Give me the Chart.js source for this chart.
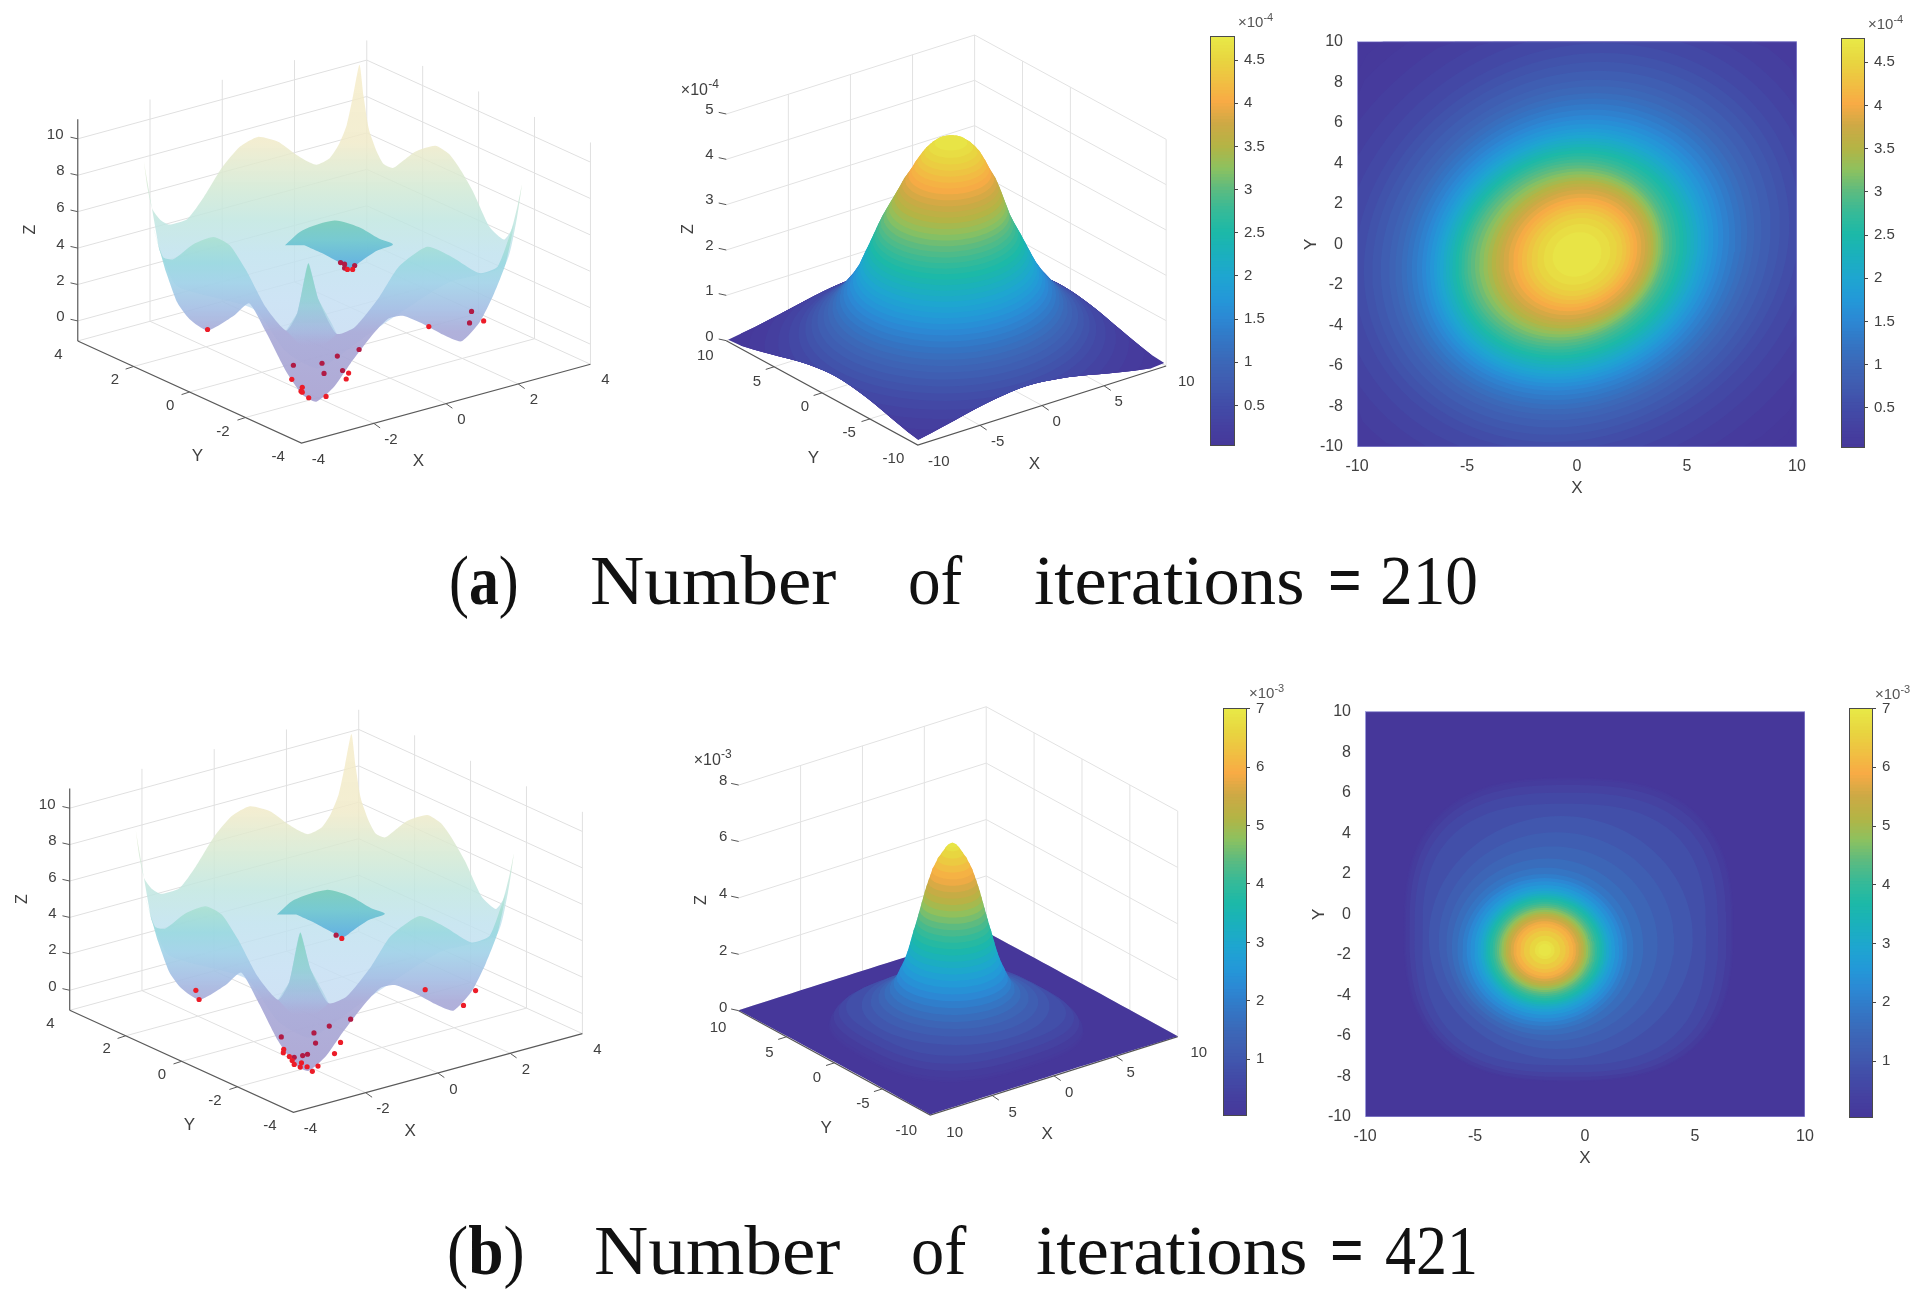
<!DOCTYPE html>
<html>
<head>
<meta charset="utf-8">
<script src="https://cdn.jsdelivr.net/npm/chart.js@4"></script>
<style>
  html, body { margin: 0; background: #fff; overflow: hidden; }
  canvas { position: absolute; filter: blur(0.4px); }
  .cap { position: absolute; font: 70px "Liberation Serif", serif; color: #111; white-space: pre; transform-origin: 0 0; line-height: normal; }
</style>
</head>
<body>
<script>
// row (a): height of each contour level (x 1e-4) and its radius around the peak
const rowALevels = [4.8,4.7,4.6,4.5,4.4,4.3,4.2,4.1,4.0,3.9,3.8,3.7,3.6,3.5,3.4,3.3,3.2,3.1,3.0,2.9,2.8,2.7,2.6,2.5,2.4,2.3,2.2,2.1,2.0,1.9,1.8,1.7,1.6,1.5,1.4,1.3,1.2,1.1,1.0,0.9,0.8,0.7,0.6,0.5,0.4,0.3,0.2,0.1,0.05,0.02];
const rowARadius = [0,1.1,1.5,1.8,2.05,2.25,2.45,2.62,2.8,3.0,3.2,3.35,3.5,3.65,3.8,3.95,4.1,4.25,4.4,4.55,4.7,4.85,5.0,5.15,5.3,5.45,5.6,5.75,5.9,6.05,6.2,6.4,6.6,6.8,7.05,7.3,7.55,7.8,8.1,8.4,8.8,9.2,9.6,10.05,10.7,11.4,12.3,13.4,14.2,20];
const rowACenterX = [0,0,0,0,0,-.02,-.04,-.06,-.08,-.1,-.12,-.14,-.16,-.2,-.24,-.28,-.32,-.36,-.4,-.4,-.4,-.38,-.36,-.34,-.34,-.32,-.32,-.3,-.3,-.28,-.26,-.24,-.22,-.2,-.18,-.16,-.14,-.12,-.1,-.08,-.06,-.04,-.02,0,0,0,0,0,0,0];
const rowACenterY = [-.5,-.5,-.5,-.5,-.5,-.5,-.5,-.5,-.5,-.5,-.5,-.5,-.5,-.5,-.5,-.5,-.5,-.5,-.5,-.5,-.5,-.5,-.5,-.5,-.5,-.5,-.5,-.5,-.5,-.5,-.48,-.46,-.44,-.42,-.4,-.38,-.36,-.34,-.3,-.28,-.24,-.2,-.16,-.12,-.1,-.08,-.06,-.04,0,0];

// row (b): same thing (x 1e-3), last level is the flat floor
const rowBLevels = [7,6.9,6.8,6.6,6.4,6.2,6,5.8,5.6,5.4,5.2,5,4.8,4.6,4.4,4.2,4,3.8,3.6,3.4,3.2,3,2.8,2.6,2.4,2.2,2,1.8,1.6,1.4,1.2,1,.8,.6,.4,.2,.1,.05,0];
const rowBRadius = [0,.3,.45,.7,.95,1.12,1.3,1.42,1.55,1.67,1.78,1.88,1.98,2.08,2.18,2.28,2.38,2.5,2.6,2.7,2.8,2.92,3.05,3.2,3.38,3.55,3.75,4,4.35,4.8,5.35,6,6.45,6.9,7.2,7.4,7.45,7.5,20];
const rowBCenterX = [-1.83,-1.83,-1.83,-1.83,-1.83,-1.83,-1.83,-1.83,-1.83,-1.83,-1.83,-1.83,-1.83,-1.83,-1.83,-1.83,-1.83,-1.83,-1.83,-1.83,-1.83,-1.83,-1.83,-1.83,-1.83,-1.83,-1.83,-1.8,-1.7,-1.5,-1.3,-1.1,-.95,-.85,-.78,-.75,-.75,-.75,0];
const rowBCenterY = [-1.76,-1.76,-1.76,-1.76,-1.76,-1.76,-1.76,-1.76,-1.76,-1.76,-1.76,-1.76,-1.76,-1.76,-1.76,-1.76,-1.76,-1.76,-1.76,-1.76,-1.76,-1.76,-1.76,-1.76,-1.76,-1.76,-1.76,-1.7,-1.6,-1.45,-1.3,-1.15,-1,-.9,-.82,-.78,-.75,-.75,0];

// colorbar ticks
const rowATicks = [0.5,1,1.5,2,2.5,3,3.5,4,4.5];
const rowBTicks = [1,2,3,4,5,6,7];

// parula-like colors sampled from the colorbar
const colorStops = [[0,'#46379a'],[.05,'#4540a0'],[.105,'#424da8'],[.157,'#405bb0'],[.21,'#3c68b8'],[.26,'#3476c4'],[.314,'#2c88d4'],[.366,'#2399d8'],[.418,'#1ea6d0'],[.47,'#1bb0bd'],[.523,'#1cb9a8'],[.575,'#36ba98'],[.628,'#5dbb80'],[.68,'#8ec15e'],[.732,'#b4b445'],[.785,'#cda945'],[.84,'#f8ab45'],[.94,'#e8d540'],[1,'#e8ea48']];

// test function surface outlines, in plot units of the left panels
const surfaceBack = [[347,480],[356,560],[368,625],[388,658],[410,672],[455,655],[495,590],[540,500],[585,435],[630,405],[680,420],[720,455],[750,478],[775,490],[808,470],[830,430],[850,370],[866,280],[882,185],[892,280],[905,380],[925,450],[942,488],[965,500],[990,478],[1020,450],[1070,432],[1105,458],[1135,510],[1165,575],[1205,680],[1240,718],[1258,690],[1275,610],[1285,550],[1270,670],[1240,800],[1100,850],[900,1010],[780,1110],[700,1060],[620,930],[430,860],[385,750]];
const surfaceFront = [[370,680],[395,772],[420,778],[470,732],[520,710],[560,735],[600,810],[650,925],[700,995],[728,940],[755,790],[780,900],[825,1005],[870,985],[930,895],[980,800],[1050,740],[1110,770],[1180,820],[1225,800],[1265,670],[1245,790],[1215,885],[1180,970],[1135,1028],[1090,1008],[1040,975],[990,950],[955,958],[920,1000],[860,1095],[820,1165],[775,1212],[740,1190],[700,1120],[650,1000],[608,912],[570,950],[505,995],[460,960],[430,910],[400,810]];
const surfaceSpike = [[700,995],[728,940],[755,790],[780,900],[825,1005],[790,1040],[735,1040]];
const surfaceDip = [[697,735],[740,690],[820,660],[880,680],[930,715],[965,733],[925,752],[890,780],[860,805],[835,790],[790,760],[745,735]];

// population points (red dots)
const dotsABright = [[505,992],[756,1200],[799,1196],[737,1180],[740,1183],[740,1168],[849,1143],[855,1125],[714,1144],[1054,983],[1190,966],[852,809],[865,809]];
const dotsADim = [[835,788],[845,793],[870,797],[845,805],[1160,937],[1155,972],[881,1053],[827,1073],[718,1101],[789,1095],[794,1126],[840,1117]];
const dotsBBright = [[476,964],[484,992],[838,806],[1045,962],[1170,965],[1140,1010],[835,1123],[820,1157],[694,1144],[693,1154],[708,1166],[715,1178],[720,1190],[738,1185],[735,1198],[752,1197],[779,1195],[765,1211]];
const dotsBDim = [[824,796],[860,1052],[807,1073],[688,1106],[769,1094],[773,1125],[720,1168],[741,1163],[753,1159]];

Chart.defaults.font.family = '"Liberation Sans", Arial, sans-serif';
Chart.defaults.color = '#404040';
Chart.defaults.animation = false;

const TICK_COLOR = '#404040';

function hex(c) { return [1, 3, 5].map(i => parseInt(c.substr(i, 2), 16)); }

function parula(t) {
  t = Math.min(1, Math.max(0, t));
  for (let i = 1; i < colorStops.length; i++) {
    if (t <= colorStops[i][0]) {
      const a = colorStops[i - 1], b = colorStops[i];
      const f = (t - a[0]) / (b[0] - a[0]);
      const ca = hex(a[1]), cb = hex(b[1]);
      return 'rgb(' + ca.map((v, k) => Math.round(v + (cb[k] - v) * f)).join(',') + ')';
    }
  }
  return colorStops[colorStops.length - 1][1];
}

const tableA = { levels: rowALevels, radius: rowARadius, cx: rowACenterX, cy: rowACenterY, top: 4.78, shear: 0.12, squareBelow: 0, squareness: 2 };
const tableB = { levels: rowBLevels, radius: rowBRadius, cx: rowBCenterX, cy: rowBCenterY, top: 7.01, shear: 0, squareBelow: 0.9, squareness: 2.7 };

function ringExtent(t, i, px, py) {
  // how far out (1 = on the contour) a domain point lies for contour i
  const p = t.levels[i] < t.squareBelow ? t.squareness : 2;
  const dy = py - t.cy[i];
  const dx = px - t.cx[i] - t.shear * dy;
  return Math.pow(Math.pow(Math.abs(dx), p) + Math.pow(Math.abs(dy), p), 1 / p) / Math.max(t.radius[i], 1e-6);
}

function heightAt(t, px, py) {
  let prev = null;
  for (let i = 0; i < t.levels.length; i++) {
    const e = ringExtent(t, i, px, py);
    if (e <= 1) {
      if (prev === null) return t.levels[i];
      return t.levels[i] + (prev.z - t.levels[i]) * (1 - e) / (prev.e - e);
    }
    prev = { z: t.levels[i], e: e };
  }
  return 0;
}

// one contour as a closed polygon on the -10..10 square. Where it leaves the square the
// point sticks to the edge at the real surface height, which gives the lifted front edges.
function ringPoints(t, i) {
  const pts = [];
  const n = 96;
  const p = t.levels[i] < t.squareBelow ? t.squareness : 2;
  pts.clipped = false;
  for (let a = 0; a < n; a++) {
    const th = a / n * Math.PI * 2;
    const ux = Math.cos(th), uy = Math.sin(th);
    const rr = t.radius[i] / Math.pow(Math.pow(Math.abs(ux), p) + Math.pow(Math.abs(uy), p), 1 / p);
    const cx = t.cx[i], cy = t.cy[i];
    let x = cx + rr * ux + t.shear * rr * uy;
    let y = cy + rr * uy;
    let z = t.levels[i];
    if (Math.abs(x) > 10 || Math.abs(y) > 10) {
      const f = Math.min(Math.abs(x) > 10 ? (10 * Math.sign(x) - cx) / (x - cx) : 1, Math.abs(y) > 10 ? (10 * Math.sign(y) - cy) / (y - cy) : 1);
      x = cx + (x - cx) * f;
      y = cy + (y - cy) * f;
      z = heightAt(t, x, y);
      pts.clipped = true;
    }
    pts.push({ x: x, y: y, z: z });
  }
  return pts;
}

// outline around two neighbouring contours, so the mountain flank has no stair steps
function convexHull(points) {
  const s = points.slice().sort((a, b) => a.x - b.x || a.y - b.y);
  const cross = (o, a, b) => (a.x - o.x) * (b.y - o.y) - (a.y - o.y) * (b.x - o.x);
  const lower = [], upper = [];
  s.forEach(p => {
    while (lower.length > 1 && cross(lower[lower.length - 2], lower[lower.length - 1], p) <= 0) lower.pop();
    lower.push(p);
  });
  s.slice().reverse().forEach(p => {
    while (upper.length > 1 && cross(upper[upper.length - 2], upper[upper.length - 1], p) <= 0) upper.pop();
    upper.push(p);
  });
  return lower.slice(0, -1).concat(upper.slice(0, -1));
}

function projector(v) {
  const ex = [(v.right[0] - v.front[0]) / (2 * v.lim), (v.right[1] - v.front[1]) / (2 * v.lim)];
  const ey = [(v.left[0] - v.front[0]) / (2 * v.lim), (v.left[1] - v.front[1]) / (2 * v.lim)];
  return (x, y, z) => ({
    x: v.front[0] + (x + v.lim) * ex[0] + (y + v.lim) * ey[0],
    y: v.front[1] + (x + v.lim) * ex[1] + (y + v.lim) * ey[1] - (z - v.zMin) * v.zUnit
  });
}

function lineSet(points, color, width) {
  return { data: points, borderColor: color, borderWidth: width, pointRadius: 0, fill: false, tension: 0 };
}

function fillSet(points, color, tension) {
  return { data: points, backgroundColor: color, borderWidth: 0, pointRadius: 0, fill: 'shape', tension: tension || 0 };
}

function gradient(stops) {
  return function (ctx) {
    const chart = ctx.chart;
    if (!chart.chartArea) return 'transparent';
    const sy = chart.scales.y;
    const y0 = sy.getPixelForValue(stops[0][0]), y1 = sy.getPixelForValue(stops[stops.length - 1][0]);
    const g = chart.ctx.createLinearGradient(0, y0, 0, y1);
    stops.forEach(s => g.addColorStop((sy.getPixelForValue(s[0]) - y0) / (y1 - y0), s[1]));
    return g;
  };
}

// walls, floor and axes of a 3D panel through its projection
function boxSets(v) {
  const pr = projector(v);
  const L = v.lim, sets = [];
  const g = v.gridColor;
  v.zTicks.forEach(z => {
    sets.push(lineSet([pr(-L, L, z), pr(L, L, z), pr(L, -L, z)], g, 1));
  });
  v.wallX.forEach(x => sets.push(lineSet([pr(x, L, v.zMin), pr(x, L, v.zMax)], g, 1)));
  v.wallY.forEach(y => sets.push(lineSet([pr(L, y, v.zMin), pr(L, y, v.zMax)], g, 1)));
  sets.push(lineSet([pr(L, L, v.zMin), pr(L, L, v.zMax)], g, 1));
  sets.push(lineSet([pr(L, -L, v.zMin), pr(L, -L, v.zMax)], g, 1));
  v.floorTicks.forEach(t => {
    sets.push(lineSet([pr(t, -L, v.zMin), pr(t, L, v.zMin)], g, 1));
    sets.push(lineSet([pr(-L, t, v.zMin), pr(L, t, v.zMin)], g, 1));
  });
  sets.push(lineSet([pr(-L, L, v.zMin), pr(L, L, v.zMin), pr(L, -L, v.zMin)], g, 1));
  return sets;
}

function axisSets(v) {
  const pr = projector(v);
  const L = v.lim, sets = [];
  const a = v.axisColor;
  if (v.zAxis) sets.push(lineSet([pr(-L, L, v.zMin), pr(-L, L, v.zMax)], a, 1.2));
  sets.push(lineSet([pr(-L, L, v.zMin), pr(-L, -L, v.zMin), pr(L, -L, v.zMin)], a, 1.2));
  v.zTicks.forEach(z => {
    const s = pr(-L, L, z);
    sets.push(lineSet([{ x: s.x - 18, y: s.y - 5 }, s], a, 1));
  });
  v.floorTicks.forEach(t => {
    const s = pr(t, -L, v.zMin);
    sets.push(lineSet([s, { x: s.x + 16, y: s.y + 14 }], a, 1));
    const q = pr(-L, t, v.zMin);
    sets.push(lineSet([q, { x: q.x - 20, y: q.y + 8 }], a, 1));
  });
  return sets;
}

// draws the free text marks of a panel, in plot units
function textMarks(marks) {
  return {
    id: 'textMarks',
    afterDraw(chart) {
      const c = chart.ctx;
      marks.forEach(m => {
        const o = m[3] || {};
        c.save();
        c.translate(chart.scales.x.getPixelForValue(m[1]), chart.scales.y.getPixelForValue(m[2]));
        if (o.rot) c.rotate(o.rot);
        c.font = (o.size || 15) + 'px "Liberation Sans"';
        c.fillStyle = o.color || TICK_COLOR;
        c.textAlign = o.align || 'center';
        c.textBaseline = 'middle';
        c.fillText(m[0], 0, 0);
        c.restore();
      });
    }
  };
}

function addChart(left, top, width, height, config) {
  const cv = document.createElement('canvas');
  cv.width = width;
  cv.height = height;
  cv.style.left = left + 'px';
  cv.style.top = top + 'px';
  cv.style.width = width + 'px';
  cv.style.height = height + 'px';
  document.body.appendChild(cv);
  config.options = Object.assign({ responsive: false, animation: false, events: [] }, config.options);
  config.options.plugins = Object.assign({ legend: { display: false }, tooltip: { enabled: false } }, config.options.plugins);
  return new Chart(cv, config);
}

function inOrder(sets) {
  // Chart.js paints high order first, keep the painter order of the list
  sets.forEach((s, i) => { s.order = sets.length - i; });
  return sets;
}

function panelChart(left, top, width, height, win, sets, marks) {
  addChart(left, top, width, height, {
    type: 'line',
    data: { datasets: inOrder(sets) },
    options: {
      layout: { padding: 0 },
      scales: {
        x: { type: 'linear', display: false, min: win.x0, max: win.x1 },
        y: { type: 'linear', display: false, min: win.y0, max: win.y1, reverse: true }
      }
    },
    plugins: [textMarks(marks)]
  });
}

const toPoints = arr => arr.map(p => ({ x: p[0], y: p[1] }));
const shifted = (arr, w) => arr.map(p => ({ x: p[0] + w.x0, y: p[1] + w.y0 }));

function dotSet(points, color) {
  return { data: points, showLine: false, pointRadius: 2.6, pointBackgroundColor: color, pointBorderWidth: 0 };
}

// left panels: the multimodal test surface with the population on it
const viewSurface = {
  lim: 4, front: [738, 1338], right: [1455, 1098], left: [183, 1027], zUnit: 55.5, zMin: -1.1, zMax: 11.08,
  zTicks: [0, 2, 4, 6, 8, 10], wallX: [-2, 0, 2], wallY: [2, 0, -2], floorTicks: [-2, 0, 2],
  gridColor: '#e0e0e0', axisColor: '#5a5a5a', zAxis: true
};
const textSurface = [
  ['10', 127, 400], ['8', 140, 510], ['6', 140, 622], ['4', 140, 733], ['2', 140, 844], ['0', 140, 955],
  ['4', 135, 1068], ['2', 275, 1145], ['0', 412, 1225], ['-2', 543, 1303], ['-4', 680, 1380],
  ['-4', 780, 1388], ['-2', 960, 1328], ['0', 1135, 1268], ['2', 1315, 1207], ['4', 1492, 1147],
  ['Z', 65, 688, { rot: -Math.PI / 2, size: 16 }], ['Y', 480, 1378, { size: 17 }], ['X', 1028, 1395, { size: 17 }]
];

function surfaceSets(win, bright, dim) {
  const sets = boxSets(viewSurface);
  sets.push(fillSet(toPoints(surfaceBack), gradient([[180, '#f6ecc8d0'], [420, '#f0eac8d4'], [560, '#d2e9d4d8'], [660, '#c0e6e0d8'], [760, '#c0e2eed8'], [900, '#c5dff3d8'], [1110, '#c8daf2d8']]), 0.2));
  sets.push(fillSet(toPoints(surfaceDip), gradient([[660, '#7ccdbcf2'], [720, '#73c8d0f2'], [805, '#5eaee2f2']]), 0.25));
  sets.push(fillSet(toPoints(surfaceFront), gradient([[670, '#c0e8e0e8'], [720, '#a8dfd2e8'], [790, '#9ad8e0e8'], [850, '#a2d2e8e8'], [930, '#a5bee4e8'], [1000, '#aaabd8ed'], [1212, '#a9a3d2ed']]), 0.2));
  sets.push(fillSet(toPoints(surfaceSpike), gradient([[790, '#84d2b8b8'], [900, '#8fd6d0a8'], [1000, '#a3c6e670'], [1040, '#a3bce400']]), 0.1));
  axisSets(viewSurface).forEach(s => sets.push(s));
  sets.push(dotSet(shifted(dim, win), '#b01b45'));
  sets.push(dotSet(shifted(bright, win), '#ec1c28'));
  return sets;
}

// middle panels: the density surface, stacked contours with the colorbar colors
function densitySets(view, t) {
  const pr = projector(view);
  const sets = boxSets(view);
  axisSets(view).forEach(s => sets.push(s));
  for (let i = t.levels.length - 1; i >= 0; i--) {
    const ring = ringPoints(t, i);
    let pts = ring.map(q => pr(q.x, q.y, q.z));
    if (!ring.clipped && i > 0) {
      pts = convexHull(pts.concat(ringPoints(t, i - 1).map(q => pr(q.x, q.y, q.z))));
    }
    sets.push(fillSet(pts, parula(t.levels[i] / t.top)));
  }
  return sets;
}

const viewDensityA = {
  lim: 10, front: [660, 1335], right: [1250, 1098], left: [205, 1022], zUnit: 136, zMin: 0, zMax: 5,
  zTicks: [0, 1, 2, 3, 4, 5], wallX: [-5, 0, 5], wallY: [5, 0], floorTicks: [-5, 0, 5],
  gridColor: '#e2e2e2', axisColor: '#555', zAxis: false
};
const textDensityA = [
  ['5', 165, 330], ['4', 165, 465], ['3', 165, 600], ['2', 165, 737], ['1', 165, 872], ['0', 165, 1010],
  ['10', 155, 1068], ['5', 278, 1147], ['0', 392, 1222], ['-5', 497, 1300], ['-10', 602, 1378],
  ['-10', 710, 1385], ['-5', 850, 1325], ['0', 990, 1265], ['5', 1137, 1207], ['10', 1298, 1147],
  ['Z', 115, 687, { rot: -Math.PI / 2, size: 16 }], ['Y', 412, 1375, { size: 17 }], ['X', 937, 1392, { size: 17 }],
  ['\u00d710', 97, 272, { align: 'left', size: 16 }], ['-4', 162, 253, { align: 'left', size: 12 }]
];

const viewDensityB = {
  lim: 10, front: [642, 1335], right: [1230, 1100], left: [187, 1022], zUnit: 84.6, zMin: 0, zMax: 8,
  zTicks: [0, 2, 4, 6, 8], wallX: [-5, 0, 5], wallY: [5, 0, -5], floorTicks: [-5, 0, 5],
  gridColor: '#e2e2e2', axisColor: '#555', zAxis: false
};
const textDensityB = [
  ['8', 150, 333], ['6', 150, 502], ['4', 150, 673], ['2', 150, 843], ['0', 150, 1013],
  ['10', 138, 1073], ['5', 260, 1150], ['0', 373, 1225], ['-5', 482, 1303], ['-10', 585, 1382],
  ['10', 700, 1388], ['5', 838, 1328], ['0', 972, 1268], ['5', 1118, 1208], ['10', 1280, 1150],
  ['Z', 98, 690, { rot: -Math.PI / 2, size: 16 }], ['Y', 395, 1375, { size: 17 }], ['X', 920, 1393, { size: 17 }],
  ['\u00d710', 80, 272, { align: 'left', size: 16 }], ['-3', 145, 255, { align: 'left', size: 12 }]
];

// right panels: filled contour map on real X/Y axes
function heatChart(left, top, t) {
  const W = 440, H = 409, yw = 60, xh = 60, padT = 12, padR = 24;
  const frame = [{ x: -10, y: -10 }, { x: 10, y: -10 }, { x: 10, y: 10 }, { x: -10, y: 10 }, { x: -10, y: -10 }];
  const sets = [fillSet(frame, parula(t.levels[t.levels.length - 1] / t.top))];
  for (let i = t.levels.length - 1; i >= 0; i--) {
    sets.push(fillSet(ringPoints(t, i).map(q => ({ x: q.x, y: q.y })), parula(t.levels[i] / t.top)));
  }
  sets.push(lineSet(frame, '#a8a8e4', 1));
  addChart(left - yw, top - padT, yw + W + padR, padT + H + xh, {
    type: 'line',
    data: { datasets: inOrder(sets) },
    options: {
      layout: { autoPadding: false, padding: { top: padT - 2.5, right: padR } },
      scales: {
        x: {
          type: 'linear', min: -10, max: 10,
          grid: { display: false }, border: { display: false },
          ticks: { stepSize: 5, maxRotation: 0, padding: 2, color: TICK_COLOR, font: { size: 16 } },
          title: { display: true, text: 'X', color: TICK_COLOR, font: { size: 17 }, padding: { top: 0, bottom: 8 } },
          afterFit: s => { s.height = xh; }
        },
        y: {
          type: 'linear', min: -10, max: 10,
          grid: { display: false }, border: { display: false },
          ticks: { stepSize: 2, padding: 6, color: TICK_COLOR, font: { size: 16 } },
          title: { display: true, text: 'Y', color: TICK_COLOR, font: { size: 17 }, padding: { top: 4, bottom: 0 } },
          afterFit: s => { s.width = yw; }
        }
      }
    }
  });
}

// colorbars: a stack of thin bars on a real value axis
function colorbar(left, top, w, h, min, max, ticks, exp, expX, expY) {
  const cells = 128, step = max / cells, padT = 30, padB = 10, axisW = 56, spare = 6;
  const sets = [];
  for (let k = 0; k < cells; k++) {
    sets.push({ data: [step], backgroundColor: parula((k + 0.5) / cells), barPercentage: 1, categoryPercentage: 1, inflateAmount: 0.6 });
  }
  addChart(left, top - padT, w + axisW, h + padT + padB + spare, {
    type: 'bar',
    data: { labels: [''], datasets: sets },
    options: {
      layout: { autoPadding: false, padding: { top: padT, bottom: padB } },
      scales: {
        x: { stacked: true, display: false },
        y: {
          stacked: true, position: 'right', min: min, max: max,
          grid: { drawOnChartArea: false, tickLength: 3, tickColor: '#444' }, border: { display: false },
          ticks: { padding: 6, color: TICK_COLOR, font: { size: 15 }, callback: v => String(v) },
          afterBuildTicks: s => { s.ticks = ticks.map(v => ({ value: v })); },
          afterFit: s => { s.width = axisW; }
        }
      }
    },
    plugins: [{
      id: 'barFrame',
      afterDraw(chart) {
        const a = chart.chartArea, c = chart.ctx;
        c.save();
        c.strokeStyle = '#4a4a4a';
        c.strokeRect(a.left + 0.5, a.top + 0.5, a.right - a.left - 1, a.bottom - a.top - 1);
        c.textBaseline = 'middle';
        c.fillStyle = '#555';
        c.font = '15px "Liberation Sans"';
        c.fillText('\u00d710', expX - left, expY - (top - padT));
        const m = c.measureText('\u00d710').width;
        c.font = '11px "Liberation Sans"';
        c.fillText(exp, expX - left + m, expY - (top - padT) - 5);
        c.restore();
      }
    }]
  });
}

const winTop = { x0: 0, x1: 1568, y0: 0, y1: 1530 };
const winBottom = { x0: 20, x1: 1588, y0: 2, y1: 1532 };

panelChart(0, 0, 640, 510, winTop, surfaceSets(winTop, dotsABright, dotsADim), textSurface);
panelChart(640, 0, 660, 510, { x0: 0, x1: 1568, y0: 0, y1: 1530 }, densitySets(viewDensityA, tableA), textDensityA);
colorbar(1210, 36, 25, 409, 0.03, 4.78, rowATicks, '-4', 1238, 23);
heatChart(1357, 38, tableA);
colorbar(1841, 38, 24, 409, 0.036, 4.78, rowATicks, '-4', 1868, 25);

panelChart(0, 670, 640, 510, winBottom, surfaceSets(winBottom, dotsBBright, dotsBDim), textSurface);
panelChart(660, 670, 660, 510, { x0: 0, x1: 1568, y0: 0, y1: 1530 }, densitySets(viewDensityB, tableB), textDensityB);
colorbar(1223, 708, 24, 407, 0.03, 7.01, rowBTicks, '-3', 1249, 694);
heatChart(1365, 708, tableB);
colorbar(1849, 708, 24, 409, 0.03, 7.01, rowBTicks, '-3', 1875, 695);

// captions: each word sits where the figure has it, width fitted to the original
const captions = [
  { base: 603, words: [['(<b>a</b>)', 449, 519], ['Number', 590, 836], ['of', 908, 962], ['iterations', 1034, 1304], ['<b>=</b>', 1328, 1362], ['210', 1380, 1478]] },
  { base: 1273, words: [['(<b>b</b>)', 447, 525], ['Number', 594, 840], ['of', 911, 966], ['iterations', 1036, 1307], ['<b>=</b>', 1330, 1364], ['421', 1385, 1478]] }
];
captions.forEach(row => {
  row.words.forEach(w => {
    const s = document.createElement('span');
    s.className = 'cap';
    s.innerHTML = w[0];
    s.style.left = w[1] + 'px';
    s.style.top = (row.base - 62) + 'px';
    document.body.appendChild(s);
    s.style.transform = 'scaleX(' + (w[2] - w[1]) / s.offsetWidth + ')';
  });
});
</script>
</body>
</html>
